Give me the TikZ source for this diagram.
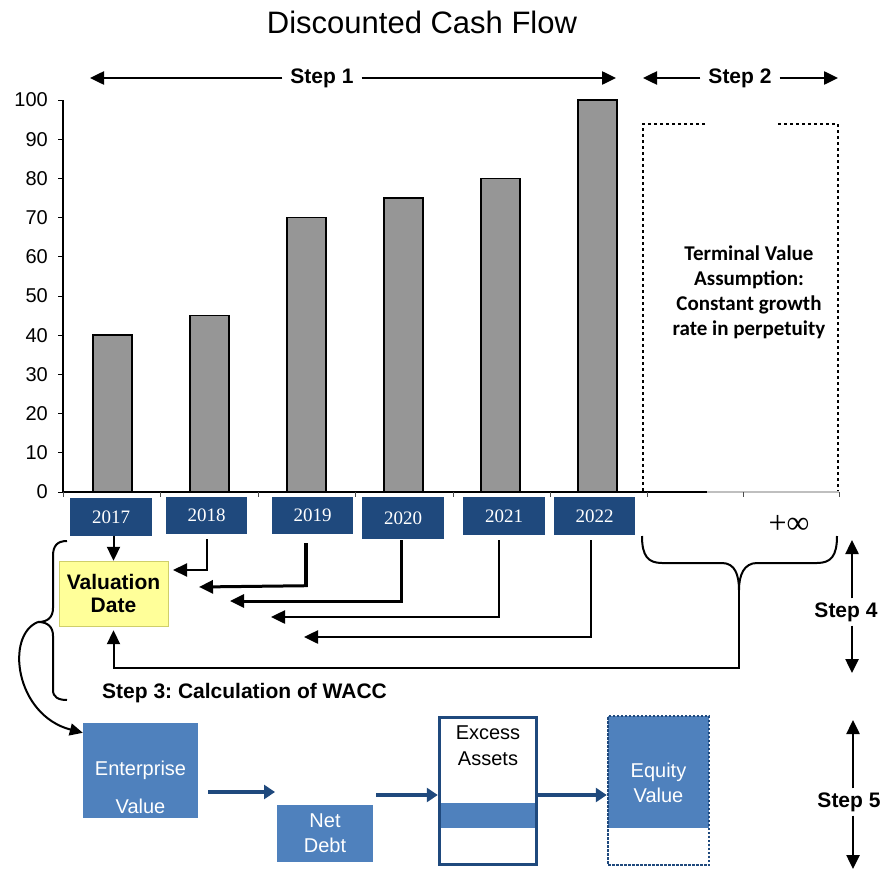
\documentclass[tikz,border=0pt]{standalone}
\usepackage{fontspec}
\setmainfont{Liberation Sans}
\newfontfamily\serifyear{Liberation Serif}
\newfontfamily\carlito{Carlito}
\usetikzlibrary{arrows.meta,calc}
\definecolor{navy}{HTML}{1F497D}
\definecolor{steel}{HTML}{4F81BD}
\definecolor{bargray}{HTML}{969696}
\definecolor{pale}{HTML}{FFFF99}
\definecolor{paleedge}{HTML}{CFCF6A}
\frenchspacing
\begin{document}
\begin{tikzpicture}[x=1pt,y=-1pt,
  tri/.style={-{Triangle[length=14pt,width=13pt]}},
  blk/.style={line width=#1, tri},
  steplbl/.style={font=\bfseries\fontsize{21}{25}\selectfont, fill=white, inner xsep=8pt, inner ysep=5pt},
  yearbox/.style={fill=navy, text=white, font=\serifyear\fontsize{19}{22}\selectfont, inner sep=0pt},
  ylab/.style={anchor=east, font=\fontsize{20}{24}\selectfont, inner sep=0pt},
  bar/.style={draw=black, line width=1.5pt, fill=bargray},
  flow/.style={navy, line width=4pt, -{Triangle[length=11pt,width=14pt]}},
  boxtxt/.style={text=white, font=\fontsize{20}{25}\selectfont, align=center},
  blacktxt/.style={text=black, font=\fontsize{20}{26}\selectfont, align=center},
  tvdots/.style={line width=2.5pt, dash pattern=on 3pt off 3pt}
]
\useasboundingbox (0,0) rectangle (889,870);

% title
\node[font=\fontsize{31}{36}\selectfont] (title) at (422,22) {Discounted Cash Flow};

% step 1 and step 2 spans
\node[steplbl] (s1) at (322,78) {Step 1};
\coordinate (s1l) at (90,78);
\coordinate (s1r) at (616,78);
\draw[blk=2.5pt] (s1) -- (s1l);
\draw[blk=2.5pt] (s1) -- (s1r);
\node[steplbl] (s2) at (740,78) {Step 2};
\coordinate (s2l) at (643,78);
\coordinate (s2r) at (838,78);
\draw[blk=2.5pt] (s2) -- (s2l);
\draw[blk=2.5pt] (s2) -- (s2r);

% value axis with ticks and labels
\draw[line width=1.2pt] (63,100) -- (63,492);
\foreach \v in {0,10,...,100} {
  \draw[line width=1pt] (58,{492-3.92*\v}) -- (63,{492-3.92*\v});
  \node[ylab] (yl\v) at (48,{492-3.92*\v}) {\v};
}

% bars
\foreach \i/\v in {0/40,1/45,2/70,3/75,4/80,5/100} {
  \draw[bar] ({93+97*\i},492) rectangle ({132+97*\i},{492-3.92*\v});
}

% terminal value area
\draw[tvdots] (705,124) -- (643,124) -- (643,492);
\draw[tvdots] (778,124) -- (838,124) -- (838,494);
\node[font=\carlito\bfseries\fontsize{21}{25}\selectfont, align=center] (tv) at (749,292)
  {Terminal Value\\Assumption:\\Constant growth\\rate in perpetuity};

% category axis
\draw[line width=1.5pt] (63,492) -- (707,492);
\draw[black!25, line width=1.5pt] (707,492) -- (839,492);
\foreach \x in {63,160,258,355,453,550,647,743,839} {
  \draw[black!70, line width=1pt] (\x,492) -- (\x,497);
}

% year boxes
\node[yearbox, minimum width=82pt, minimum height=38pt] (y17) at (111,517) {2017};
\node[yearbox, minimum width=81pt, minimum height=37pt] (y18) at (206.5,515.5) {2018};
\node[yearbox, minimum width=81pt, minimum height=37pt] (y19) at (312.5,515.5) {2019};
\node[yearbox, minimum width=82pt, minimum height=42pt] (y20) at (403,518) {2020};
\node[yearbox, minimum width=82pt, minimum height=38pt] (y21) at (504,516) {2021};
\node[yearbox, minimum width=81pt, minimum height=38pt] (y22) at (594.5,516) {2022};
\node[font=\serifyear\fontsize{32}{36}\selectfont, inner sep=0pt] (inf) at (789,524) {+∞};

% valuation date
\node[draw=paleedge, fill=pale, minimum width=109pt, minimum height=65pt,
      font=\bfseries\fontsize{21}{23}\selectfont, align=center] (vd) at (113.5,593.5) {Valuation\\Date};

% discounting connectors
\coordinate (a18) at (173,570);
\coordinate (a19) at (199,587);
\coordinate (a20) at (230,601);
\coordinate (a21) at (271,617);
\coordinate (a22) at (304,637);
\draw[blk=2pt] (vd.north |- y17.south) -- (vd.north);
\draw[blk=2pt] ($(y18.south)+(0.5,5)$) |- (a18);
\draw[line width=4.5pt] ($(y19.south)+(-6.5,9)$) -- ($(y19.south)+(-6.5,53)$);
\draw[blk=3pt] ($(y19.south)+(-5,51.5)$) -- (a19);
\draw[blk=3pt] ($(y20.south)+(-2,1)$) |- (a20);
\draw[blk=2.5pt] ($(y21.south)+(-5,5)$) |- (a21);
\draw[blk=2.5pt] ($(y22.south)+(-3.5,5)$) |- (a22);

% brace over the terminal period
\coordinate (btip) at (739,590);
\draw[line width=2pt]
  (642,536) .. controls (642,556) and (648,563) .. (662,563) -- (722,563)
  .. controls (735,563) and (739,575) .. (btip)
  (837,536) .. controls (837,556) and (831,563) .. (817,563) -- (757,563)
  .. controls (744,563) and (739,575) .. (btip);
\draw[blk=2pt, shorten >=4pt] (btip) -- (739,668) -| (vd.south);

% step 4
\node[font=\bfseries\fontsize{21}{25}\selectfont, inner sep=4pt] (s4) at (846,612) {Step 4};
\coordinate (s4t) at (852,540);
\coordinate (s4b) at (852,673);
\draw[blk=2.5pt] (s4.north -| s4t) -- (s4t);
\draw[blk=2.5pt] (s4.south -| s4b) -- (s4b);

% WACC brace and hand-over to enterprise value
\coordinate (wtip) at (38,622);
\draw[line width=2pt]
  (67,541) .. controls (57,541) and (53,546) .. (53,556) -- (53,608)
  .. controls (53,617) and (48,622) .. (wtip)
  .. controls (48,622) and (53,627) .. (53,636) -- (53,690)
  .. controls (53,697) and (58,700) .. (67,700);
\node[font=\bfseries\fontsize{21}{25}\selectfont, anchor=west, inner sep=0pt] (s3) at (102,693)
  {Step 3: Calculation of WACC};

% bridge from enterprise value to equity value
\node[fill=steel, minimum width=115pt, minimum height=95pt, inner sep=0pt] (ev) at (140.5,770.5) {};
\node[boxtxt] (evt) at (140.5,787) {Enterprise\\[13pt]Value};
\draw[line width=2pt, -{Triangle[length=13pt,width=12pt]}]
  (wtip) .. controls (5,635) and (15,715) .. ($(ev.north west)+(0,10)$);

\node[fill=steel, minimum width=96pt, minimum height=57pt, boxtxt, inner sep=0pt] (nd) at (325,833.5) {Net\\Debt};

\node[fill=steel, minimum width=97pt, minimum height=25pt, inner sep=0pt] (eab) at (488,815.5) {};
\node[draw=navy, line width=3.5pt, minimum width=97pt, minimum height=147pt, inner sep=0pt] (ea) at (488,791) {};
\node[blacktxt] (eat) at (488,746) {Excess\\Assets};

\node[fill=steel, minimum width=101pt, minimum height=112pt, inner sep=0pt] (eqf) at (658.5,772) {};
\node[draw=navy, line width=2.5pt, dash pattern=on 2.5pt off 1.5pt,
      minimum width=101pt, minimum height=149pt, inner sep=0pt] (eq) at (658.5,790.5) {};
\node[boxtxt] (eqt) at (658.5,782.5) {Equity\\Value};

\coordinate (f1s) at (208,792);
\coordinate (f1e) at (275,792);
\coordinate (f2s) at (376,795);
\draw[flow] (f1s) -- (f1e);
\draw[flow] (f2s) -- (f2s -| ea.west);
\draw[flow] (ea.east |- f2s) -- (eq.west |- f2s);

% step 5
\node[font=\bfseries\fontsize{21}{25}\selectfont, inner sep=4pt] (s5) at (849,802) {Step 5};
\coordinate (s5t) at (853,720);
\coordinate (s5b) at (853,869);
\draw[blk=2.5pt] (s5.north -| s5t) -- (s5t);
\draw[blk=2.5pt] (s5.south -| s5b) -- (s5b);
\end{tikzpicture}
\end{document}
